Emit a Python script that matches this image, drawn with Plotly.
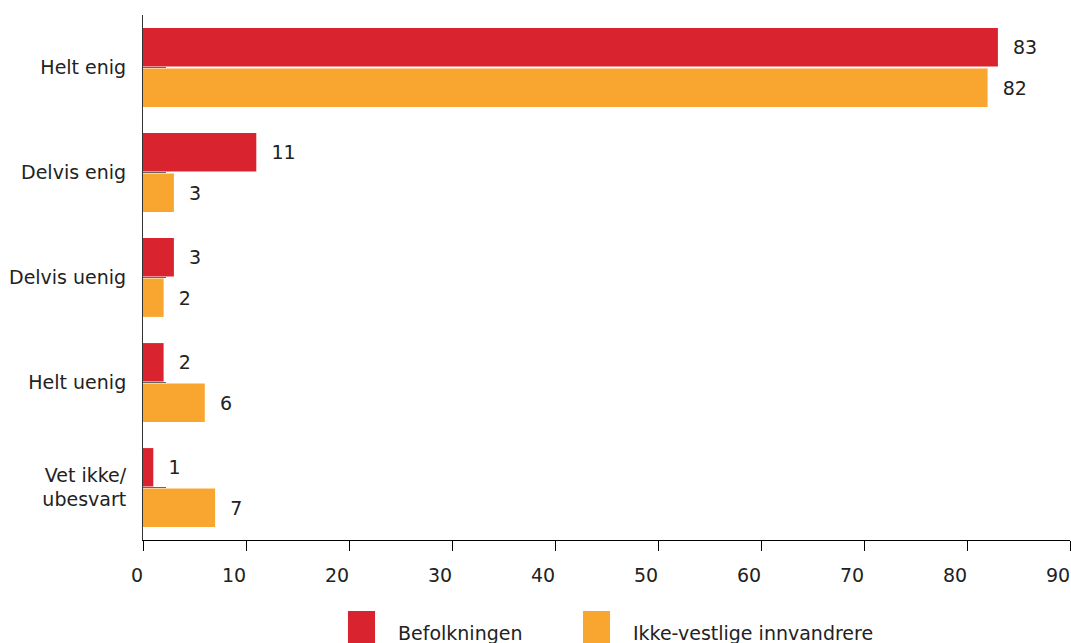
import plotly.graph_objects as go

categories = ["Helt enig", "Delvis enig", "Delvis uenig", "Helt uenig", "Vet ikke/<br>ubesvart"]
series_names = ["Befolkningen", "Ikke-vestlige innvandrere"]
befolkningen = [83, 11, 3, 2, 1]
innvandrere = [82, 3, 2, 6, 7]
x_ticks = [0, 10, 20, 30, 40, 50, 60, 70, 80, 90]
x_ticktext = ["\u2007" + str(v) if v < 10 else str(v) for v in x_ticks]

colors = ["#d9232f", "#f9a630"]
font = "DejaVu Sans, Verdana, sans-serif"

fig = go.Figure()
for name, vals, col in zip(series_names, [befolkningen, innvandrere], colors):
    fig.add_trace(go.Bar(
        name=name, y=categories, x=vals, orientation="h",
        marker_color=col, marker_line_width=0,
        text=vals, texttemplate="\u00a0\u00a0%{x}", textposition="outside",
        textfont=dict(size=19, color="#222"), cliponaxis=False,
        showlegend=False,
    ))

fig.update_layout(
    barmode="group", bargap=0.23, bargroupgap=0.05,
    width=1071, height=643,
    margin=dict(l=143, r=1, t=15, b=103),
    plot_bgcolor="white", paper_bgcolor="white",
    font=dict(family=font, size=19, color="#222"),
    xaxis=dict(range=[0, 90], tickvals=x_ticks, ticktext=x_ticktext,
               showgrid=False, zeroline=False, showline=True, linecolor="#000",
               linewidth=1, ticks="outside", ticklen=10, tickcolor="#000",
               ticklabelshift=-12, ticklabelstandoff=8, automargin=False),
    yaxis=dict(autorange="reversed", showgrid=False, showline=True,
               linecolor="#333", linewidth=1, ticks="inside", ticklen=23,
               tickcolor="#666", ticklabelstandoff=12, automargin=False),
)

# legend drawn by hand (large square swatches)
leg_x = [0.2211, 0.4746]
for name, col, lx in zip(series_names, colors, leg_x):
    fig.add_shape(type="rect", xref="paper", yref="paper",
                  x0=lx, x1=lx + 0.0292, y0=-0.135, y1=-0.2,
                  fillcolor=col, line_width=0)
    fig.add_annotation(xref="paper", yref="paper", x=lx + 0.052, y=-0.177,
                       text=name, showarrow=False, xanchor="left", yanchor="middle",
                       font=dict(size=19, color="#222"))

# drop the default body margin so the figure fills the window exactly
fig.write_html("out.html", config={"displayModeBar": False},
               post_script="document.body.style.margin='0';document.body.style.overflow='hidden';")
